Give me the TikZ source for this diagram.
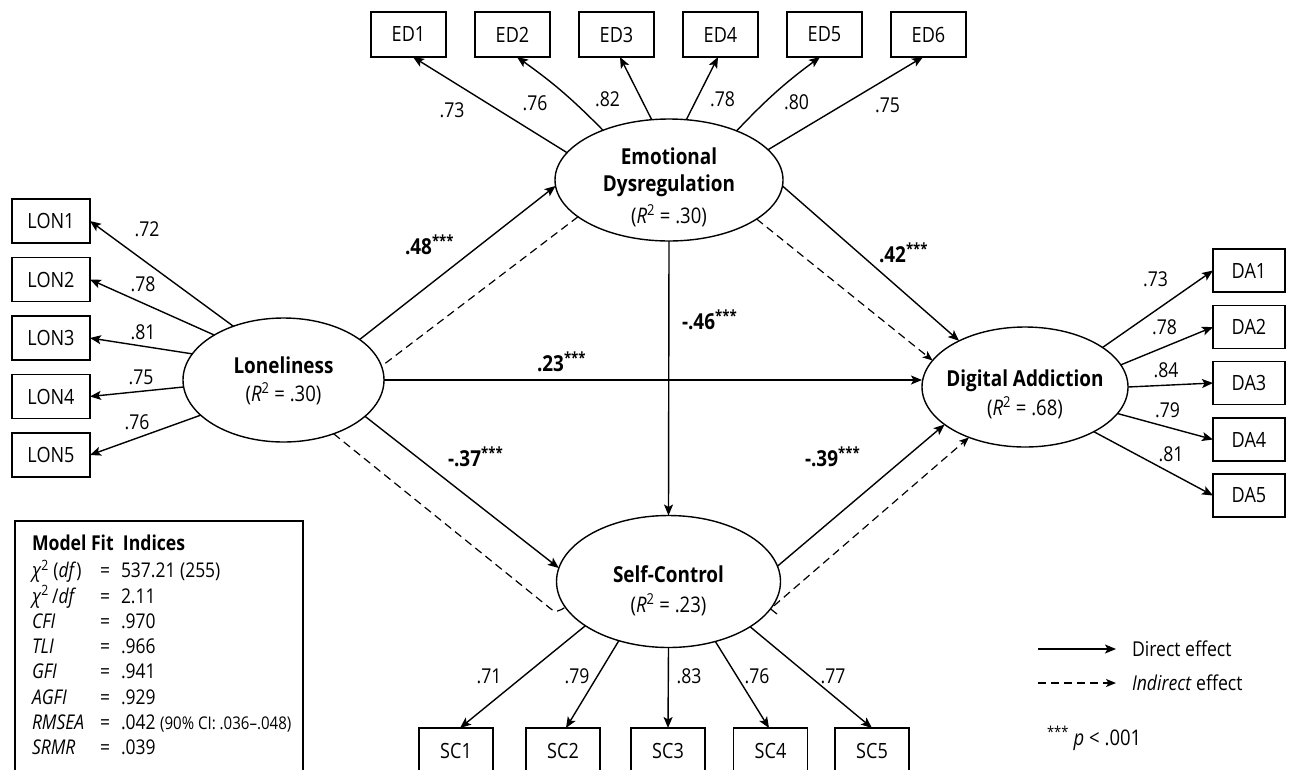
\documentclass[tikz,border=0pt]{standalone}
\usepackage{fontspec}
\setmainfont{Open Sans}[FakeStretch=0.86]
\usetikzlibrary{arrows.meta,shapes.geometric}
\begin{document}
\begin{tikzpicture}[x=1pt,y=1pt,
  every node/.style={inner sep=0pt, outer sep=0pt},
  obs/.style={draw, line width=1.4pt, font=\fontsize{21}{24}\selectfont},
  lonbox/.style={obs, minimum width=78pt, minimum height=44pt},
  edbox/.style={obs, minimum width=75pt, minimum height=45pt},
  scbox/.style={obs, minimum width=74pt, minimum height=45pt},
  dabox/.style={obs, minimum width=72pt, minimum height=43pt},
  lat/.style={draw, ellipse, line width=1.4pt},
  arr/.style={line width=1.4pt, -{Stealth[length=11pt,width=9pt,inset=2.5pt]}},
  ind/.style={line width=1.2pt, dash pattern=on 8pt off 5pt},
  indarr/.style={ind, -{Stealth[length=10pt,width=8pt,inset=2.5pt]}},
  lbl/.style={font=\fontsize{20.5}{23}\selectfont},
  coef/.style={font=\bfseries\fontsize{22}{25}\selectfont, anchor=base west},
  lname/.style={font=\bfseries\fontsize{22}{25}\selectfont, anchor=base},
  rsq/.style={font=\fontsize{21.5}{25}\selectfont, anchor=base},
  fittxt/.style={font=\fontsize{20.3}{24}\selectfont, anchor=base west},
  legtxt/.style={font=\fontsize{20.5}{24}\selectfont, anchor=base west}
]
\fill[white] (0,0) rectangle (1292,-769);
\useasboundingbox (0,0) rectangle (1292,-769);

% latent variables
\node[lat, minimum width=201pt, minimum height=124pt] (lon) at (283.5,-380) {};
\node[lat, minimum width=228pt, minimum height=122pt] (ed) at (669,-180) {};
\node[lat, minimum width=224pt, minimum height=132pt] (sc) at (668.5,-581.5) {};
\node[lat, minimum width=206pt, minimum height=120pt] (da) at (1025,-387) {};

\node[lname] (lont) at (283.5,-373) {Loneliness};
\node[rsq] (lonr) at (283.5,-401) {(\textit{R}\textsuperscript{2} = .30)};
\node[lname] (edt1) at (669,-164) {Emotional};
\node[lname] (edt2) at (669,-191) {Dysregulation};
\node[rsq] (edr) at (669,-223) {(\textit{R}\textsuperscript{2} = .30)};
\node[lname] (sct) at (668.5,-582) {Self-Control};
\node[rsq] (scr) at (668.5,-612) {(\textit{R}\textsuperscript{2} = .23)};
\node[lname] (dat) at (1025,-386) {Digital Addiction};
\node[rsq] (dar) at (1025,-415) {(\textit{R}\textsuperscript{2} = .68)};

% indicators
\node[lonbox] (lon1) at (51,-221) {LON1};
\node[lonbox] (lon2) at (51,-279.5) {LON2};
\node[lonbox] (lon3) at (51,-338) {LON3};
\node[lonbox] (lon4) at (51,-396.5) {LON4};
\node[lonbox] (lon5) at (51,-455) {LON5};

\node[edbox] (ed1) at (408.5,-34.5) {ED1};
\node[edbox] (ed2) at (512.5,-34.5) {ED2};
\node[edbox] (ed3) at (616.5,-34.5) {ED3};
\node[edbox] (ed4) at (720.5,-34.5) {ED4};
\node[edbox] (ed5) at (824.5,-34.5) {ED5};
\node[edbox] (ed6) at (928.5,-34.5) {ED6};

\node[scbox] (sc1) at (456,-750.5) {SC1};
\node[scbox] (sc2) at (563,-750.5) {SC2};
\node[scbox] (sc3) at (668,-750.5) {SC3};
\node[scbox] (sc4) at (770.5,-750.5) {SC4};
\node[scbox] (sc5) at (872,-750.5) {SC5};

\node[dabox] (da1) at (1249,-270.5) {DA1};
\node[dabox] (da2) at (1249,-327) {DA2};
\node[dabox] (da3) at (1249,-383) {DA3};
\node[dabox] (da4) at (1249,-439.5) {DA4};
\node[dabox] (da5) at (1249,-495.5) {DA5};

% loadings
\draw[arr] (lon.133.6) -- (lon1.east);
\draw[arr] (lon.147.4) -- (lon2.east);
\draw[arr] (lon.164.8) -- (lon3.east);
\draw[arr] (lon.184.6) -- (lon4.east);
\draw[arr] (lon.203.2) -- (lon5.east);

\draw[arr] (ed.165.4) -- ([xshift=4.5pt]ed1.south);
\draw[arr] (ed.143.5) to[bend right=5] ([xshift=4.5pt]ed2.south);
\draw[arr] (ed.106.4) -- ([xshift=3.5pt]ed3.south);
\draw[arr] (ed.74.4) -- ([xshift=-2.5pt]ed4.south);
\draw[arr] (ed.36.5) to[bend left=5] ([xshift=-4.5pt]ed5.south);
\draw[arr] (ed.17.1) -- ([xshift=-5.5pt]ed6.south);

\draw[arr] (sc.208.5) -- ([xshift=4pt]sc1.north);
\draw[arr] (sc.230.1) -- ([xshift=3pt]sc2.north);
\draw[arr] (sc.south) -- (sc3.north);
\draw[arr] (sc.308.7) -- ([xshift=-1.5pt]sc4.north);
\draw[arr] (sc.331.2) -- (sc5.north);

\draw[arr] (da.27.7) -- (da1.west);
\draw[arr] (da.13.9) -- (da2.west);
\draw[arr] (da.0) -- (da3.west);
\draw[arr] (da.344.7) -- (da4.west);
\draw[arr] (da.327.8) -- (da5.west);

% loading labels
\node[lbl] (llon1) at (147,-229.5) {.72};
\node[lbl] (llon2) at (143,-284) {.78};
\node[lbl] (llon3) at (143,-332) {.81};
\node[lbl] (llon4) at (141,-377) {.75};
\node[lbl] (llon5) at (137,-422) {.76};

\node[lbl] (led1) at (452,-110) {.73};
\node[lbl] (led2) at (535,-103) {.76};
\node[lbl] (led3) at (607.5,-99.5) {.82};
\node[lbl] (led4) at (722.5,-99.5) {.78};
\node[lbl] (led5) at (796.5,-102) {.80};
\node[lbl] (led6) at (887.5,-105.5) {.75};

\node[lbl] (lsc1) at (489,-676.5) {.71};
\node[lbl] (lsc2) at (577,-676.5) {.79};
\node[lbl] (lsc3) at (689,-676.5) {.83};
\node[lbl] (lsc4) at (757,-676.5) {.76};
\node[lbl] (lsc5) at (833,-676.5) {.77};

\node[lbl] (lda1) at (1155.5,-279) {.73};
\node[lbl] (lda2) at (1164.5,-327.5) {.78};
\node[lbl] (lda3) at (1166,-370.5) {.84};
\node[lbl] (lda4) at (1167.5,-410) {.79};
\node[lbl] (lda5) at (1171,-454) {.81};

% structural paths
\draw[arr] (lon.28.4) -- (ed.183.5);
\draw[ind] (ed.202.1) -- (lon.8.5);
\draw[arr] (lon.east) -- (da.west |- lon.east);
\draw[arr] (lon.336.2) -- (sc.173.1);
\coordinate (hk1) at (551,-609);
\draw[ind] (lon.313.6) -- (hk1) .. controls (554,-613) and (560,-611) .. (sc.194);
\draw[arr] (ed.south) -- (sc.north);
\draw[arr] (ed.357) -- (da.145.2);
\draw[indarr] (ed.336.6) -- (da.164.6);
\draw[arr] (sc.8.2) -- (da.205);
\coordinate (hk2) at (777,-614);
\draw[indarr] (hk2) -- (sc.345) -- (da.222);

% path coefficients
\node[coef] (c48) at (405,-254) {.48\textsuperscript{***}};
\node[coef] (c42) at (879,-262) {.42\textsuperscript{***}};
\node[coef] (c46) at (682,-329) {-.46\textsuperscript{***}};
\node[coef] (c23) at (537,-371.5) {.23\textsuperscript{***}};
\node[coef] (c37) at (448,-466.5) {-.37\textsuperscript{***}};
\node[coef] (c39) at (805,-466.5) {-.39\textsuperscript{***}};

% model fit box
\node[draw, line width=1.4pt, minimum width=288pt, minimum height=256pt, anchor=north west] (fitbox) at (15,-521) {};
\node[fittxt, font=\bfseries\fontsize{20.5}{24}\selectfont] (ftitle) at (32,-550) {Model Fit\ \ Indices};
\node[fittxt] (f1a) at (32,-577.7) {\textit{χ}\textsuperscript{2} (\textit{df})};
\node[fittxt] (f1b) at (100,-577.7) {=};
\node[fittxt] (f1c) at (121,-577.7) {537.21 (255)};
\node[fittxt] (f2a) at (32,-603) {\textit{χ}\textsuperscript{2}\,/\textit{df}};
\node[fittxt] (f2b) at (100,-603) {=};
\node[fittxt] (f2c) at (121,-603) {2.11};
\node[fittxt] (f3a) at (32,-628.3) {\textit{CFI}};
\node[fittxt] (f3b) at (100,-628.3) {=};
\node[fittxt] (f3c) at (121,-628.3) {.970};
\node[fittxt] (f4a) at (32,-653.6) {\textit{TLI}};
\node[fittxt] (f4b) at (100,-653.6) {=};
\node[fittxt] (f4c) at (121,-653.6) {.966};
\node[fittxt] (f5a) at (32,-678.9) {\textit{GFI}};
\node[fittxt] (f5b) at (100,-678.9) {=};
\node[fittxt] (f5c) at (121,-678.9) {.941};
\node[fittxt] (f6a) at (32,-704.2) {\textit{AGFI}};
\node[fittxt] (f6b) at (100,-704.2) {=};
\node[fittxt] (f6c) at (121,-704.2) {.929};
\node[fittxt] (f7a) at (32,-729.5) {\textit{RMSEA}};
\node[fittxt] (f7b) at (100,-729.5) {=};
\node[fittxt] (f7c) at (121,-729.5) {.042 {\fontsize{17.5}{20}\selectfont (90\% CI: .036–.048)}};
\node[fittxt] (f8a) at (32,-754.8) {\textit{SRMR}};
\node[fittxt] (f8b) at (100,-754.8) {=};
\node[fittxt] (f8c) at (121,-754.8) {.039};

% legend
\coordinate (lg1a) at (1038,-649);
\coordinate (lg1b) at (1116,-649);
\coordinate (lg2a) at (1038,-683);
\coordinate (lg2b) at (1116,-683);
\draw[arr] (lg1a) -- (lg1b);
\draw[indarr] (lg2a) -- (lg2b);
\node[legtxt] (lgt1) at (1132,-656.5) {Direct effect};
\node[legtxt] (lgt2) at (1132,-690.5) {\textit{Indirect} effect};
\node[legtxt, font=\fontsize{21.5}{25}\selectfont] (lgt3) at (1047,-745) {\textsuperscript{***} \textit{p} < .001};
\end{tikzpicture}
\end{document}
